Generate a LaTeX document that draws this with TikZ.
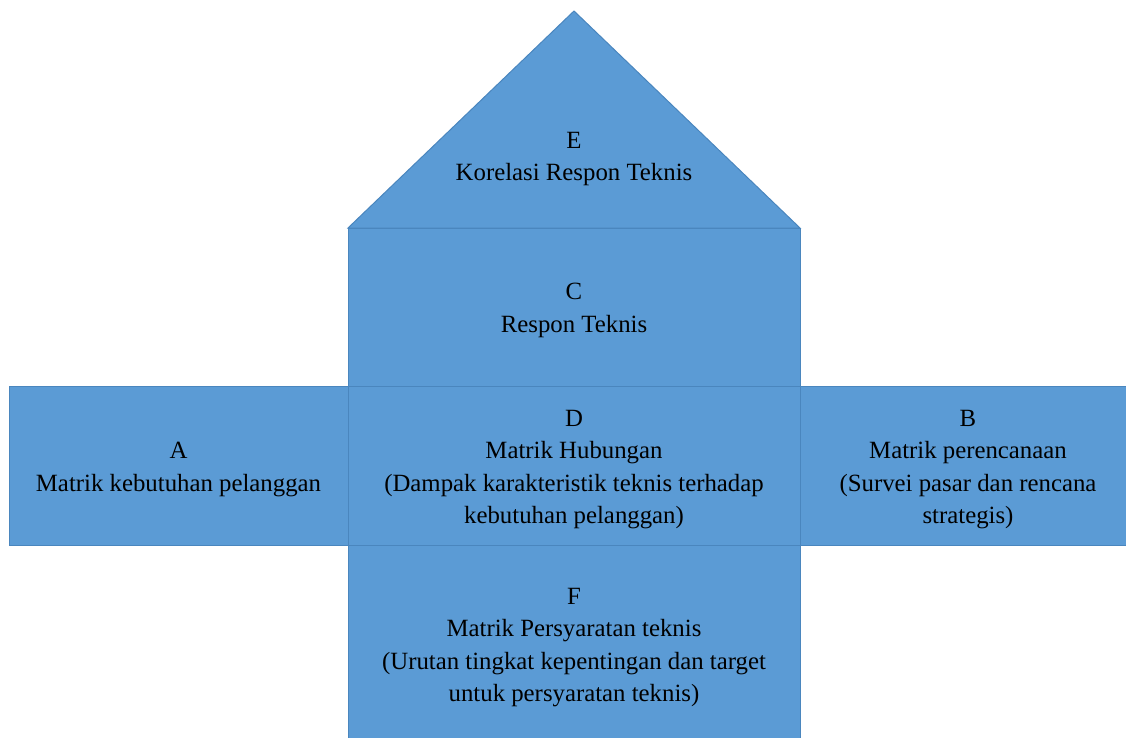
\documentclass[tikz,border=0pt]{standalone}
\usepackage{fontspec}
\setmainfont{Liberation Serif}
\usetikzlibrary{positioning}
\definecolor{hoqFill}{HTML}{5B9BD5}
\definecolor{hoqLine}{HTML}{4A86BE}
\tikzset{
  every node/.style={font=\fontsize{24.8}{32.2}\selectfont},
  blk/.style={draw=hoqLine, fill=hoqFill, line width=1pt},
  lbl/.style={align=center, text=black, inner sep=0pt},
}

\begin{document}
\begin{tikzpicture}[x=1pt, y=-1pt]
  \useasboundingbox (0,0) rectangle (1126,738);
  % roof of the house
  \draw[blk, line join=miter] (348,228) -- (574,11) -- (800,228) -- cycle;
  \node[lbl] (korelasi) at (574,159) {E\\Korelasi Respon Teknis};
  % body: columns and rows
  \draw[blk] (348,228) rectangle (800,386);
  \draw[blk] (9,386) rectangle (348,545);
  \draw[blk] (348,386) rectangle (800,545);
  \draw[blk] (800,386) rectangle (1126,545);
  \draw[blk] (348,545) rectangle (800,738);
  \node[lbl] (respon) at (574,310.5) {C\\Respon Teknis};
  \node[lbl] (kebutuhan) at (178.5,469.5) {A\\Matrik kebutuhan pelanggan};
  \node[lbl] (hubungan) at (574,469.5)
    {D\\Matrik Hubungan\\(Dampak karakteristik teknis terhadap\\kebutuhan pelanggan)};
  \node[lbl] (perencanaan) at (968,469.5)
    {B\\Matrik perencanaan\\(Survei pasar dan rencana\\strategis)};
  \node[lbl] (persyaratan) at (574,647.5)
    {F\\Matrik Persyaratan teknis\\(Urutan tingkat kepentingan dan target\\untuk persyaratan teknis)};
\end{tikzpicture}
\end{document}
